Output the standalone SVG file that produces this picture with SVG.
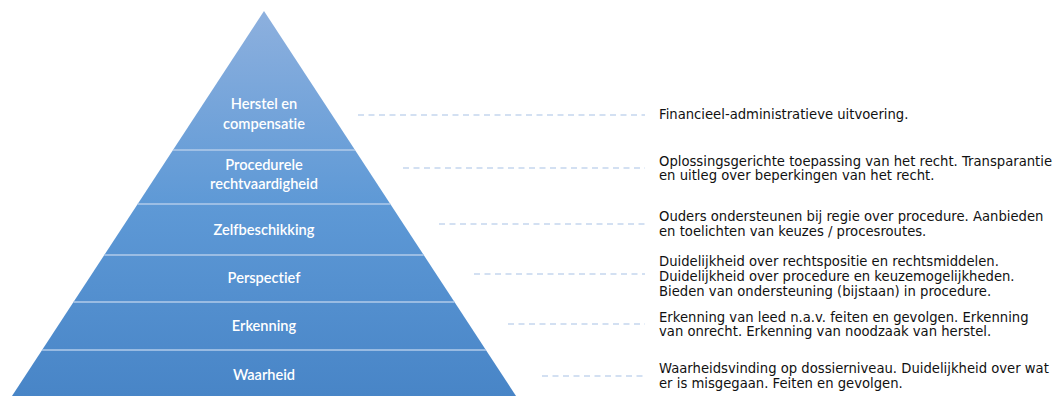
<svg xmlns="http://www.w3.org/2000/svg" width="1057" height="396" viewBox="0 0 1057 396">
<defs>
<linearGradient id="pg" gradientUnits="userSpaceOnUse" x1="0" y1="11" x2="0" y2="396">
<stop offset="0" stop-color="#8db0de"/>
<stop offset="0.5" stop-color="#5e99d6"/>
<stop offset="1" stop-color="#4885c7"/>
</linearGradient>
<style>
.band{fill:url(#pg);}
.sep{stroke:#b2cbea;stroke-width:1.6;}
.lbl{font-family:Lato,"Open Sans",sans-serif;font-size:14.6px;font-weight:600;fill:#ffffff;text-anchor:middle;font-variant-ligatures:none;font-feature-settings:"liga" 0,"dlig" 0;}
.desc{font-family:"DejaVu Sans",Verdana,sans-serif;font-size:13.2px;fill:#111111;}
.dash{stroke:#c5d6ee;stroke-width:1.4;stroke-dasharray:6 4.5;fill:none;}
</style>
</defs>
<rect width="1057" height="396" fill="#ffffff"/>
<g id="node-herstel">
<polygon class="band" points="264,11 355,150 173,150"/>
<text class="lbl" x="264" y="109">Herstel en</text>
<text class="lbl" x="264" y="129">compensatie</text>
</g>
<g id="node-procedurele">
<polygon class="band" points="173,150 355,150 390.3,204 137.7,204"/>
<text class="lbl" x="264" y="170">Procedurele</text>
<text class="lbl" x="264" y="189">rechtvaardigheid</text>
</g>
<g id="node-zelfbeschikking">
<polygon class="band" points="137.7,204 390.3,204 423.7,255 104.3,255"/>
<text class="lbl" x="264" y="235">Zelfbeschikking</text>
</g>
<g id="node-perspectief">
<polygon class="band" points="104.3,255 423.7,255 454.5,302 73.5,302"/>
<text class="lbl" x="264" y="283">Perspectief</text>
</g>
<g id="node-erkenning">
<polygon class="band" points="73.5,302 454.5,302 485.9,350 42.1,350"/>
<text class="lbl" x="264" y="331">Erkenning</text>
</g>
<g id="node-waarheid">
<polygon class="band" points="42.1,350 485.9,350 516,396 12,396"/>
<text class="lbl" x="264" y="380">Waarheid</text>
</g>
<g id="separators">
<line class="sep" x1="173" y1="150" x2="355" y2="150"/>
<line class="sep" x1="137.7" y1="204" x2="390.3" y2="204"/>
<line class="sep" x1="104.3" y1="255" x2="423.7" y2="255"/>
<line class="sep" x1="73.5" y1="302" x2="454.5" y2="302"/>
<line class="sep" x1="42.1" y1="350" x2="485.9" y2="350"/>
</g>
<g id="connectors">
<line class="dash" x1="358" y1="115" x2="645" y2="115"/>
<line class="dash" x1="403" y1="168" x2="645" y2="168"/>
<line class="dash" x1="439" y1="224" x2="645" y2="224"/>
<line class="dash" x1="474" y1="274" x2="645" y2="274"/>
<line class="dash" x1="508" y1="324" x2="645" y2="324"/>
<line class="dash" x1="542" y1="376" x2="645" y2="376"/>
</g>
<g id="desc-herstel">
<text class="desc" x="659" y="119">Financieel-administratieve uitvoering.</text>
</g>
<g id="desc-procedurele">
<text class="desc" x="659" y="165.5">Oplossingsgerichte toepassing van het recht. Transparantie</text>
<text class="desc" x="659" y="180">en uitleg over beperkingen van het recht.</text>
</g>
<g id="desc-zelfbeschikking">
<text class="desc" x="659" y="221">Ouders ondersteunen bij regie over procedure. Aanbieden</text>
<text class="desc" x="659" y="235.5">en toelichten van keuzes / procesroutes.</text>
</g>
<g id="desc-perspectief">
<text class="desc" x="659" y="266">Duidelijkheid over rechtspositie en rechtsmiddelen.</text>
<text class="desc" x="659" y="280.5">Duidelijkheid over procedure en keuzemogelijkheden.</text>
<text class="desc" x="659" y="296">Bieden van ondersteuning (bijstaan) in procedure.</text>
</g>
<g id="desc-erkenning">
<text class="desc" x="659" y="321.5">Erkenning van leed n.a.v. feiten en gevolgen. Erkenning</text>
<text class="desc" x="659" y="336">van onrecht. Erkenning van noodzaak van herstel.</text>
</g>
<g id="desc-waarheid">
<text class="desc" x="659" y="373">Waarheidsvinding op dossierniveau. Duidelijkheid over wat</text>
<text class="desc" x="659" y="387.5">er is misgegaan. Feiten en gevolgen.</text>
</g>
</svg>
